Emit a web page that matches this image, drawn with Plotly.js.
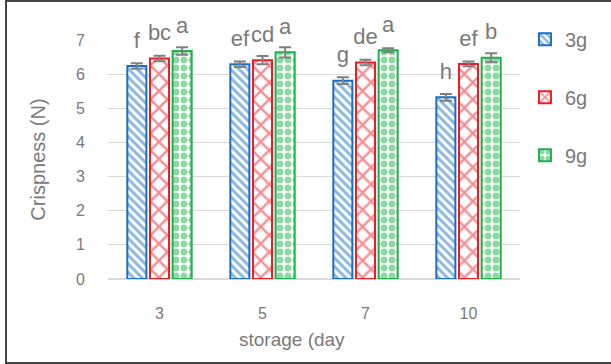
<!DOCTYPE html>
<html>
<head>
<meta charset="utf-8">
<script src="https://cdn.plot.ly/plotly-3.0.1.min.js"></script>
<style>
  html, body { margin: 0; padding: 0; background: #fff; }
  #wrap { position: relative; width: 611px; height: 364px; overflow: hidden; }
  #chart { position: absolute; left: 0; top: 0; width: 611px; height: 364px; }
  #frame { position: absolute; left: 5px; top: 0px; width: 620px; height: 364px;
           border: 2px solid #444; pointer-events: none; box-sizing: border-box; }
</style>
</head>
<body>
<div id="wrap"><div id="chart"></div><div id="frame"></div></div>
<script>
// ---- data ----
const days = ['3', '5', '7', '10'];
const series = ['3g', '6g', '9g'];
const crisp3g = [6.24, 6.29, 5.81, 5.32];
const crisp6g = [6.46, 6.41, 6.34, 6.30];
const crisp9g = [6.68, 6.64, 6.70, 6.48];
const err3g = [0.08, 0.08, 0.10, 0.10];
const err6g = [0.08, 0.12, 0.08, 0.07];
const err9g = [0.11, 0.15, 0.06, 0.13];
const letters3g = ['f', 'ef', 'g', 'h'];
const letters6g = ['bc', 'cd', 'de', 'ef'];
const letters9g = ['a', 'a', 'a', 'b'];
const yTicks = [0, 1, 2, 3, 4, 5, 6, 7];

// ---- styling ----
const colors = ['#1A6FC4', '#EC1C24', '#1FAF4B'];
const shapes = ['\\', 'x', '.'];
const psize = [6, 12, 8];
const psolid = [0.5, 0.35, 0.6];
const values = [crisp3g, crisp6g, crisp9g];
const errs = [err3g, err6g, err9g];
const letters = [letters3g, letters6g, letters9g];
const BARGAP = 0.34;
const grey = '#7A7A7A';
const FONT = 'Liberation Sans, Arial, sans-serif';

const traces = [];
series.forEach((name, i) => {
  traces.push({
    type: 'bar', name: name, x: days, y: values[i],
    offsetgroup: String(i), legendgroup: String(i),
    marker: {
      color: '#ffffff',
      line: { color: colors[i], width: 2 },
      pattern: { shape: shapes[i], fgcolor: colors[i], bgcolor: '#ffffff',
                 fillmode: 'overlay', size: psize[i], solidity: psolid[i] }
    },
    error_y: { type: 'data', array: errs[i], visible: true,
               color: '#808080', thickness: 2, width: 6 },
    hoverinfo: 'skip'
  });
});
series.forEach((name, i) => {
  traces.push({
    type: 'scatter', mode: 'markers+text', x: days, y: values[i],
    offsetgroup: String(i), showlegend: false,
    marker: { size: 19, color: 'rgba(0,0,0,0)' },
    text: letters[i], textposition: 'top center',
    textfont: { family: FONT, size: 22, color: grey },
    cliponaxis: false, hoverinfo: 'skip'
  });
});

const layout = {
  width: 611, height: 364,
  margin: { l: 108, r: 91, t: 40, b: 85 },
  paper_bgcolor: '#ffffff', plot_bgcolor: '#ffffff',
  barmode: 'group', bargap: BARGAP, bargroupgap: 0.16,
  scattermode: 'group', scattergap: BARGAP,
  font: { family: FONT, color: grey },
  xaxis: {
    type: 'category', showgrid: false, zeroline: false,
    showline: false, ticks: '',
    tickfont: { size: 16, color: grey }, ticklabelstandoff: 23
  },
  yaxis: {
    range: [0, 7], tickvals: yTicks, showgrid: true, gridcolor: '#D9D9D9', gridwidth: 1,
    zeroline: true, zerolinecolor: '#D9D9D9', zerolinewidth: 2,
    showline: false, ticks: '',
    tickfont: { size: 16, color: grey }, ticklabelstandoff: 22,
    title: { text: 'Crispness (N)', font: { size: 20, color: grey }, standoff: 25 }
  },
  legend: {
    x: 1.012, xanchor: 'left', y: 1.085, yanchor: 'top',
    font: { size: 20, color: grey }, tracegroupgap: 29,
    bgcolor: 'rgba(0,0,0,0)'
  },
  annotations: [{
    text: 'storage (day', xref: 'paper', yref: 'paper', x: 0.447, y: -0.255,
    xanchor: 'center', yanchor: 'middle', showarrow: false,
    font: { size: 19, color: grey }
  }],
  showlegend: true
};

Plotly.newPlot('chart', traces, layout, { displayModeBar: false, staticPlot: true });
</script>
</body>
</html>
